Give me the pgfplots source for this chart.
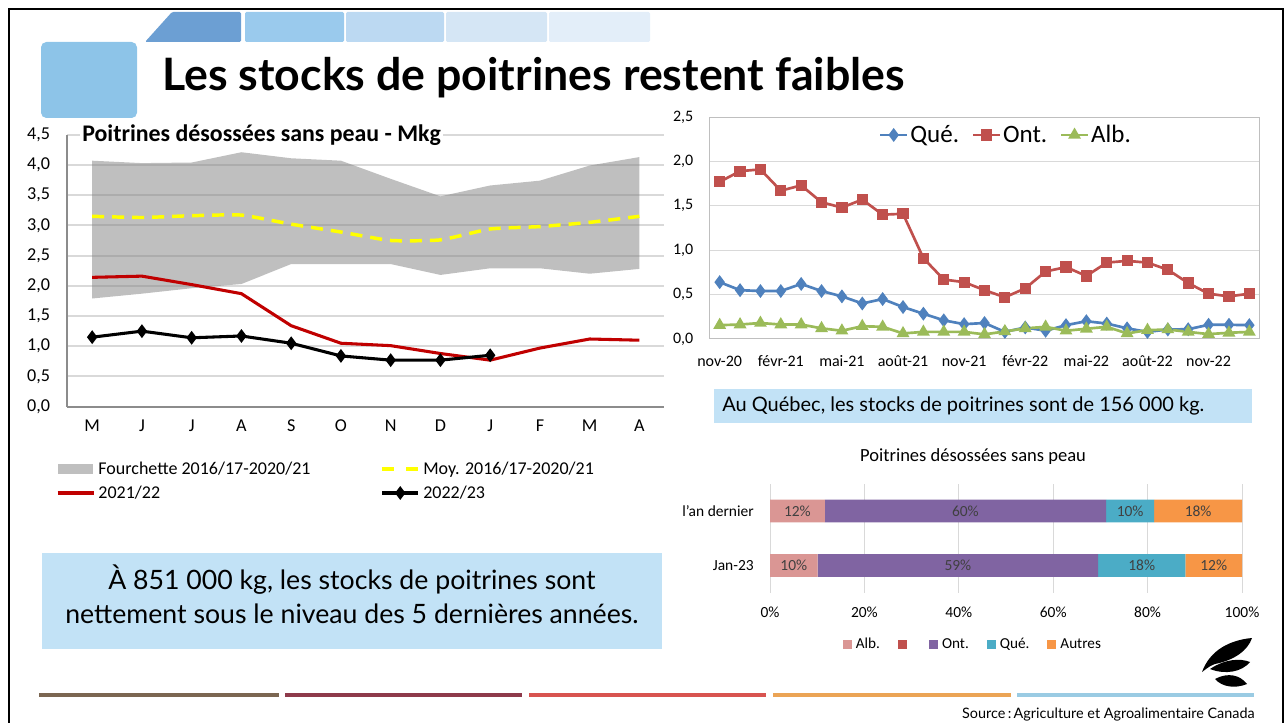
\documentclass[border=0pt]{standalone}
\usepackage{pgfplots}
\pgfplotsset{compat=1.18}
\usepackage{fontspec}
\setmainfont{Carlito}
\newfontfamily\gill{Lato}
\definecolor{quec}{HTML}{4F81BD}
\definecolor{ontc}{HTML}{C0504D}
\definecolor{albc}{HTML}{9BBB59}
\definecolor{gridc}{HTML}{D9D9D9}
\definecolor{axc}{HTML}{8C8C8C}
\definecolor{bordc}{HTML}{BFBFBF}
\definecolor{boxc}{HTML}{C2E2F6}
\definecolor{redl}{HTML}{C00000}
\definecolor{yel}{HTML}{FFFF00}
\definecolor{barAlb}{HTML}{DA9694}
\definecolor{barRed}{HTML}{C0504D}
\definecolor{barOnt}{HTML}{8064A2}
\definecolor{barQue}{HTML}{4BACC6}
\definecolor{barAut}{HTML}{F79646}
\definecolor{lblc}{HTML}{404040}
\definecolor{bk1}{HTML}{6C9FD3}
\definecolor{bk2}{HTML}{9ACAED}
\definecolor{bk3}{HTML}{BCD9F2}
\definecolor{bk4}{HTML}{D5E6F5}
\definecolor{bk5}{HTML}{E3EEF9}
\definecolor{sq}{HTML}{8DC4E8}
\definecolor{ln1}{HTML}{7B6651}
\definecolor{ln2}{HTML}{8E3A4B}
\definecolor{ln3}{HTML}{D85450}
\definecolor{ln4}{HTML}{EBA455}
\definecolor{ln5}{HTML}{9ACBE3}

\pgfplotsset{
  leg area/.style={legend image code/.code={\fill[##1] (0pt,-3.75pt) rectangle (26.25pt,3.75pt);}},
  leg dash/.style={legend image code/.code={\draw[##1, dash pattern=on 9pt off 9pt] (0pt,0pt) -- (27pt,0pt);}},
  leg line/.style={legend image code/.code={\draw[##1] (0pt,0pt) -- (27pt,0pt);}},
  leg mark/.style={legend image code/.code={\draw[mark repeat=2,mark phase=2,##1] plot coordinates {(0pt,0pt) (13.5pt,0pt) (27pt,0pt)};}},
  leg markshort/.style={legend image code/.code={\draw[mark repeat=2,mark phase=2,##1] plot coordinates {(0pt,0pt) (10pt,0pt) (20pt,0pt)};}},
  leg square/.style={legend image code/.code={\fill[##1] (0pt,-3.4pt) rectangle (6.75pt,3.4pt);}},
}

\begin{document}
\begin{tikzpicture}[x=0.75pt,y=-0.75pt]
\path[use as bounding box] (0,0) rectangle (1285,723);
% frame
\draw[black, line width=1.5pt] (9,730) -- (9,9) -- (1283,9) -- (1283,730);
% top blocks
\fill[bk1, rounded corners=1pt] (145,42) -- (172,12) -- (241,12) -- (241,42) -- cycle;
\fill[bk2, rounded corners=1pt] (245,12) rectangle (344,42);
\fill[bk3, rounded corners=1pt] (346,12) rectangle (444,42);
\fill[bk4, rounded corners=1pt] (446,12) rectangle (547,42);
\fill[bk5, rounded corners=1pt] (549,12) rectangle (650,42);
\fill[sq, rounded corners=4pt] (41,42) rectangle (137,118);
% title
\node[anchor=base west, inner sep=0pt] at (162,91) {\gill\bfseries\fontsize{33.5pt}{38pt}\selectfont Les stocks de poitrines restent faibles};

% ===== left chart =====
\coordinate (LA) at (67.3,406.7);
\begin{axis}[at={(LA)}, anchor=south west, scale only axis,
  width=447.75pt, height=204pt,
  xmin=-0.5, xmax=11.5, ymin=0, ymax=4.5,
  xtick={0,...,11}, xticklabels={M,J,J,A,S,O,N,D,J,F,M,A},
  ytick={0,0.5,1,1.5,2,2.5,3,3.5,4,4.5},
  /pgf/number format/assume math mode=true,
  yticklabel={\pgfmathprintnumber[fixed,fixed zerofill,precision=1,use comma]{\tick}},
  axis lines*=left, axis line style={draw=axc, line width=1.5pt, -},
  ymajorgrids, grid style={draw=gridc, line width=1.5pt},
  major tick length=0pt,
  tick label style={font=\fontsize{13.6pt}{16pt}\selectfont, inner sep=0pt},
  xticklabel style={anchor=center, yshift=-14pt},
  yticklabel style={anchor=east, xshift=-12.75pt},
  clip=false,
  legend style={at={(-0.026,-0.18)}, anchor=north west, draw=none, fill=none,
     legend columns=2, font=\fontsize{13.5pt}{16pt}\selectfont,
     /tikz/every even column/.append style={column sep=50pt},
     row sep=2pt, nodes={inner sep=2.5pt}},
  legend cell align=left,
]
\addplot[draw=none, fill=black!50, fill opacity=0.5, leg area]
  coordinates {(0,4.07)(1,4.03)(2,4.04)(3,4.21)(4,4.11)(5,4.07)(6,3.77)(7,3.48)(8,3.66)(9,3.74)(10,3.99)(11,4.13)
  (11,2.28)(10,2.20)(9,2.29)(8,2.29)(7,2.18)(6,2.36)(5,2.36)(4,2.36)(3,2.03)(2,1.96)(1,1.87)(0,1.79)} -- cycle;
\addlegendentry{Fourchette 2016/17-2020/21}
\addplot[yel, line width=2.6pt, dash pattern=on 9pt off 6pt, smooth, tension=0.3, leg dash]
  coordinates {(0,3.15)(1,3.13)(2,3.16)(3,3.17)(4,3.02)(5,2.89)(6,2.75)(7,2.76)(8,2.94)(9,2.98)(10,3.05)(11,3.15)};
\addlegendentry{Moy. 2016/17-2020/21}
\addplot[redl, line width=2.3pt, leg line]
  coordinates {(0,2.14)(1,2.16)(2,2.02)(3,1.87)(4,1.34)(5,1.05)(6,1.01)(7,0.88)(8,0.77)(9,0.97)(10,1.12)(11,1.10)};
\addlegendentry{2021/22}
\addplot[black, line width=2.3pt, mark=diamond*, mark size=3.3pt, leg mark]
  coordinates {(0,1.15)(1,1.25)(2,1.14)(3,1.17)(4,1.05)(5,0.84)(6,0.77)(7,0.77)(8,0.851)};
\addlegendentry{2022/23}
\end{axis}
\node[anchor=west, fill=white, inner sep=1.5pt] at (80,135) {\bfseries\fontsize{17.9pt}{20pt}\selectfont Poitrines désossées sans peau - Mkg};

% ===== right chart =====
\coordinate (RA) at (709.5,339);
\begin{axis}[at={(RA)}, anchor=south west, scale only axis,
  width=412.5pt, height=166.5pt,
  xmin=-0.5, xmax=26.5, ymin=0, ymax=2.5,
  xtick={0,3,6,9,12,15,18,21,24},
  xticklabels={nov-20,févr-21,mai-21,août-21,nov-21,févr-22,mai-22,août-22,nov-22},
  ytick={0,0.5,1,1.5,2,2.5},
  /pgf/number format/assume math mode=true,
  yticklabel={\pgfmathprintnumber[fixed,fixed zerofill,precision=1,use comma]{\tick}},
  axis line style={draw=bordc, line width=0.75pt},
  ymajorgrids, grid style={draw=gridc, line width=0.75pt},
  major tick length=0pt,
  tick label style={font=\fontsize{12pt}{14pt}\selectfont, inner sep=0pt},
  xticklabel style={anchor=center, yshift=-16.5pt},
  yticklabel style={anchor=east, xshift=-12pt},
  legend style={at={(0.539,0.919)}, anchor=center, draw=none, fill=none, legend columns=3,
    font=\fontsize{18.75pt}{21pt}\selectfont,
    /tikz/every even column/.append style={column sep=8pt}, nodes={inner sep=1.5pt}},
  leg markshort,
]
\addplot[quec, line width=2pt, mark=diamond*, mark size=3.6pt] coordinates {
(0,0.64)(1,0.55)(2,0.54)(3,0.54)(4,0.62)(5,0.54)(6,0.48)(7,0.40)(8,0.45)(9,0.36)(10,0.285)(11,0.21)(12,0.167)(13,0.18)
(14,0.08)(15,0.13)(16,0.093)(17,0.156)(18,0.20)(19,0.174)(20,0.12)(21,0.08)(22,0.107)(23,0.11)(24,0.16)(25,0.16)(26,0.156)};
\addlegendentry{Qué.}
\addplot[ontc, line width=2pt, mark=square*, mark size=3.2pt] coordinates {
(0,1.77)(1,1.89)(2,1.91)(3,1.67)(4,1.73)(5,1.54)(6,1.48)(7,1.57)(8,1.40)(9,1.41)(10,0.91)(11,0.67)(12,0.64)(13,0.55)
(14,0.47)(15,0.57)(16,0.76)(17,0.81)(18,0.71)(19,0.86)(20,0.88)(21,0.86)(22,0.78)(23,0.63)(24,0.51)(25,0.48)(26,0.51)};
\addlegendentry{Ont.}
\addplot[albc, line width=2pt, mark=triangle*, mark size=3.6pt] coordinates {
(0,0.156)(1,0.163)(2,0.18)(3,0.163)(4,0.163)(5,0.12)(6,0.093)(7,0.144)(8,0.137)(9,0.063)(10,0.08)(11,0.08)(12,0.08)(13,0.052)
(14,0.085)(15,0.12)(16,0.137)(17,0.093)(18,0.115)(19,0.137)(20,0.063)(21,0.10)(22,0.107)(23,0.08)(24,0.055)(25,0.07)(26,0.08)};
\addlegendentry{Alb.}
\end{axis}

% Quebec box
\fill[boxc] (714,389) rectangle (1252,423);
\node[anchor=west, inner sep=0pt] at (722,406) {\gill\fontsize{15pt}{18pt}\selectfont Au Québec, les stocks de poitrines sont de 156 000 kg.};

% ===== bar chart =====
\node at (973,457) {\fontsize{13.9pt}{16pt}\selectfont Poitrines désossées sans peau};
\coordinate (BA) at (770,592.75);
\begin{axis}[at={(BA)}, anchor=south west, scale only axis,
  width=354pt, height=81.75pt,
  xbar stacked, bar width=16.9pt,
  xmin=0, xmax=100, ymin=-0.5, ymax=1.5,
  ytick={0,1}, yticklabels={Jan-23, l'an dernier},
  xtick={0,20,40,60,80,100},
  /pgf/number format/assume math mode=true,
  xticklabel={\pgfmathprintnumber{\tick}\%},
  xmajorgrids, grid style={draw=gridc, line width=0.75pt},
  axis line style={draw=none}, major tick length=0pt,
  tick label style={font=\fontsize{11.6pt}{14pt}\selectfont, inner sep=0pt},
  xticklabel style={anchor=center, yshift=-14.6pt},
  yticklabel style={anchor=east, xshift=-12pt},
  legend style={at={(0.432,-0.479)}, anchor=center, draw=none, fill=none, legend columns=-1,
    font=\fontsize{11.4pt}{13pt}\selectfont,
    /tikz/every even column/.append style={column sep=10.5pt},
    nodes={inner sep=3pt, text height=1.6ex, text depth=0.35ex}},
  leg square,
  clip=false,
]
\addplot[fill=barAlb, draw=none] coordinates {(11.6,1) (10.1,0)};
\addlegendentry{Alb.}
\addlegendimage{fill=barRed, draw=none}
\addlegendentry{}
\addplot[fill=barOnt, draw=none] coordinates {(59.6,1) (59.4,0)};
\addlegendentry{Ont.}
\addplot[fill=barQue, draw=none] coordinates {(10.2,1) (18.5,0)};
\addlegendentry{Qué.}
\addplot[fill=barAut, draw=none] coordinates {(18.6,1) (12.0,0)};
\addlegendentry{Autres}
\end{axis}
\begin{axis}[at={(BA)}, anchor=south west, scale only axis,
  width=354pt, height=81.75pt,
  xmin=0, xmax=100, ymin=-0.5, ymax=1.5, hide axis, clip=false]
\addplot[only marks, mark=none, nodes near coords, point meta=explicit symbolic,
  every node near coord/.style={anchor=center, text=lblc, font=\fontsize{11.6pt}{13pt}\selectfont}]
  coordinates {(5.8,1) [12\%] (41.4,1) [60\%] (76.3,1) [10\%] (90.7,1) [18\%]
               (5.05,0) [10\%] (39.8,0) [59\%] (78.75,0) [18\%] (94,0) [12\%]};
\end{axis}

% big box
\fill[boxc] (42,553) rectangle (662,649);
\node[align=center, inner sep=0pt, font=\gill\fontsize{20pt}{25.5pt}\selectfont] at (352,594) {À 851 000 kg, les stocks de poitrines sont\\ nettement sous le niveau des 5 dernières années.};

% logo
\fill[black] (1202,672) .. controls (1210,650) and (1230,640) .. (1252,638) .. controls (1248,650) and (1235,660) .. (1215,664) .. controls (1210,666) .. (1202,672) -- cycle;
\fill[black] (1210,669) .. controls (1225,659) and (1240,658) .. (1250,662) .. controls (1242,672) and (1225,675) .. (1210,669) -- cycle;
\fill[black] (1215,679) .. controls (1228,672) and (1240,675) .. (1247,684) .. controls (1235,689) and (1222,687) .. (1215,679) -- cycle;

% bottom lines
\fill[ln1] (39,693) rectangle (279,697);
\fill[ln2] (285,693) rectangle (522,697);
\fill[ln3] (529,693) rectangle (766,697);
\fill[ln4] (773,693) rectangle (1011,697);
\fill[ln5] (1017,693) rectangle (1254,697);
\node[anchor=base east, inner sep=0pt] at (1255,718) {\gill\fontsize{10.8pt}{12pt}\selectfont Source\,:\,Agriculture et Agroalimentaire Canada};
\end{tikzpicture}
\end{document}
